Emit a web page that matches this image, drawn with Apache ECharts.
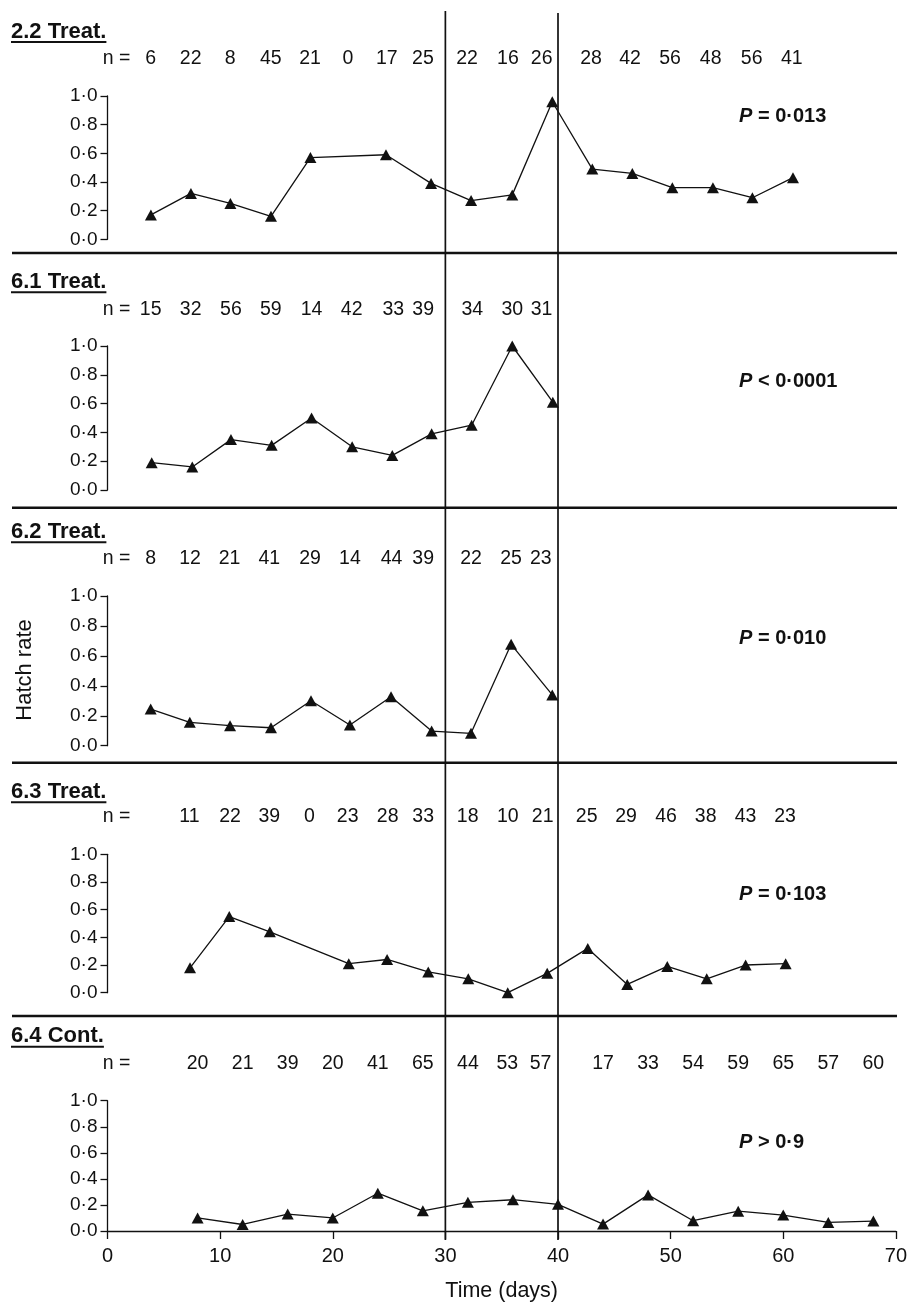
<!DOCTYPE html>
<html>
<head>
<meta charset="utf-8">
<script src="https://cdn.jsdelivr.net/npm/echarts@6/dist/echarts.min.js"></script>
<style>
html,body{margin:0;padding:0;background:#fff;}
#c{width:910px;height:1303px;}
</style>
</head>
<body>
<div id="c"></div>
<script>
// ---------------- DATA ----------------
const panelTitles = ['2.2 Treat.', '6.1 Treat.', '6.2 Treat.', '6.3 Treat.', '6.4 Cont.'];
const pValueTexts = ['= 0·013', '< 0·0001', '= 0·010', '= 0·103', '> 0·9'];
const boundaryDays = [30, 40];
const xTickValues = [0, 10, 20, 30, 40, 50, 60, 70];
const yTickValues = [0, 0.2, 0.4, 0.6, 0.8, 1.0];

// 2.2 Treat.
const t22Days = [3.85, 7.4, 10.9, 14.5, 18.0, 24.7, 28.7, 32.25, 35.9, 39.45, 43.0, 46.55, 50.1, 53.7, 57.2, 60.8];
const t22Rate = [0.17, 0.32, 0.25, 0.16, 0.57, 0.59, 0.39, 0.27, 0.31, 0.96, 0.49, 0.46, 0.36, 0.36, 0.29, 0.43];
const t22NDays = [3.83, 7.38, 10.87, 14.48, 17.96, 21.33, 24.77, 27.98, 31.89, 35.52, 38.51, 42.89, 46.35, 49.9, 53.5, 57.14, 60.69];
const t22N = [6, 22, 8, 45, 21, 0, 17, 25, 22, 16, 26, 28, 42, 56, 48, 56, 41];

// 6.1 Treat.
const t61Days = [3.92, 7.52, 10.95, 14.56, 18.1, 21.7, 25.26, 28.75, 32.3, 35.9, 39.5];
const t61Rate = [0.19, 0.16, 0.35, 0.31, 0.50, 0.30, 0.24, 0.39, 0.45, 1.00, 0.61];
const t61NDays = [3.83, 7.38, 10.95, 14.48, 18.1, 21.66, 25.35, 28.0, 32.36, 35.9, 38.5];
const t61N = [15, 32, 56, 59, 14, 42, 33, 39, 34, 30, 31];

// 6.2 Treat.
const t62Days = [3.83, 7.3, 10.87, 14.5, 18.05, 21.5, 25.15, 28.75, 32.24, 35.8, 39.45];
const t62Rate = [0.245, 0.156, 0.134, 0.12, 0.30, 0.138, 0.327, 0.098, 0.083, 0.677, 0.339];
const t62NDays = [3.83, 7.32, 10.82, 14.35, 17.96, 21.5, 25.2, 28.0, 32.24, 35.8, 38.43];
const t62N = [8, 12, 21, 41, 29, 14, 44, 39, 22, 25, 23];

// 6.3 Treat.
const t63Days = [7.32, 10.8, 14.4, 21.4, 24.8, 28.45, 32.0, 35.5, 39.0, 42.6, 46.1, 49.65, 53.15, 56.6, 60.15];
const t63Rate = [0.18, 0.55, 0.44, 0.21, 0.24, 0.15, 0.10, 0.0, 0.14, 0.32, 0.06, 0.19, 0.10, 0.20, 0.21];
const t63NDays = [7.26, 10.87, 14.35, 17.9, 21.3, 24.85, 28.0, 31.95, 35.5, 38.6, 42.5, 46.0, 49.54, 53.06, 56.6, 60.1];
const t63N = [11, 22, 39, 0, 23, 28, 33, 18, 10, 21, 25, 29, 46, 38, 43, 23];

// 6.4 Cont.
const c64Days = [8, 12, 16, 20, 24, 28, 32, 36, 40, 44, 48, 52, 56, 60, 64, 68];
const c64Rate = [0.10, 0.05, 0.13, 0.10, 0.29, 0.155, 0.22, 0.24, 0.205, 0.053, 0.277, 0.079, 0.152, 0.122, 0.066, 0.076];
const c64NDays = [8, 12, 16, 20, 24, 28, 32, 35.5, 38.45, 44, 48, 52, 56, 60, 64, 68];
const c64N = [20, 21, 39, 20, 41, 65, 44, 53, 57, 17, 33, 54, 59, 65, 57, 60];

// ---------------- CHART ----------------
const FONT = '"Liberation Sans", Arial, Helvetica, sans-serif';
const INK = '#111';
const panels = [
  {days: t22Days, rate: t22Rate, nDays: t22NDays, n: t22N},
  {days: t61Days, rate: t61Rate, nDays: t61NDays, n: t61N},
  {days: t62Days, rate: t62Rate, nDays: t62NDays, n: t62N},
  {days: t63Days, rate: t63Rate, nDays: t63NDays, n: t63N},
  {days: c64Days, rate: c64Rate, nDays: c64NDays, n: c64N}
];
const layout = [
  {top: 96,    height: 143.3, titleY: 31.5,  nY: 59,    pY: 116.7, sepY: 253},
  {top: 346,   height: 144,   titleY: 281.8, nY: 309.3, pY: 381.7, sepY: 507.7},
  {top: 596,   height: 149.7, titleY: 531.8, nY: 559,   pY: 638.3, sepY: 762.7},
  {top: 854.3, height: 138.4, titleY: 791.8, nY: 816.7, pY: 894.3, sepY: 1016},
  {top: 1100.7,height: 131.3, titleY: 1036.2,nY: 1064,  pY: 1142.7, sepY: null}
];
const GRID_LEFT = 107.5, GRID_RIGHT = 910 - 896.7;

const chart = echarts.init(document.getElementById('c'), null, {renderer: 'canvas'});

const grids = [], xAxes = [], yAxes = [], series = [];
panels.forEach((p, i) => {
  const L = layout[i];
  const last = i === panels.length - 1;
  grids.push({left: GRID_LEFT, right: GRID_RIGHT, top: L.top, height: L.height, containLabel: false});
  xAxes.push({
    type: 'value', gridIndex: i, min: 0, max: 70, interval: 10, show: last,
    axisLine: {show: true, onZero: false, lineStyle: {color: INK, width: 1.3}},
    axisTick: {show: true, length: 8, lineStyle: {color: INK, width: 1.3}},
    axisLabel: {show: true, color: INK, fontSize: 20, fontFamily: FONT, margin: 15},
    splitLine: {show: false},
    name: last ? 'Time (days)' : '',
    nameLocation: 'middle', nameGap: 49,
    nameTextStyle: {color: INK, fontSize: 21.5, fontFamily: FONT}
  });
  yAxes.push({
    type: 'value', gridIndex: i, min: 0, max: 1, interval: 0.2,
    axisLine: {show: true, onZero: false, lineStyle: {color: INK, width: 1.3}},
    axisTick: {show: true, length: 7, lineStyle: {color: INK, width: 1.3}},
    axisLabel: {color: INK, fontSize: 19, fontFamily: FONT, margin: 10,
      formatter: v => v.toFixed(1).replace('.', '·')},
    splitLine: {show: false}
  });
  series.push({
    type: 'line', xAxisIndex: i, yAxisIndex: i,
    data: p.days.map((d, k) => [d, p.rate[k]]),
    symbol: 'triangle', symbolSize: [12, 11],
    itemStyle: {color: INK},
    lineStyle: {color: INK, width: 1.3},
    clip: false, animation: false, silent: true
  });
});

chart.setOption({
  backgroundColor: '#fff',
  animation: false,
  grid: grids, xAxis: xAxes, yAxis: yAxes, series: series
});

// ---------- annotations built with the chart's own x scale ----------
const ctx = document.createElement('canvas').getContext('2d');
function textWidth(t, font) { ctx.font = font; return ctx.measureText(t).width; }

const g = [];
panels.forEach((p, i) => {
  const L = layout[i];
  // title + underline
  const tFont = 'bold 22px ' + FONT;
  g.push({type: 'text', x: 11, y: L.titleY, style: {text: panelTitles[i], font: tFont, fill: INK, textAlign: 'left', textVerticalAlign: 'middle'}});
  g.push({type: 'line', shape: {x1: 11, y1: L.titleY + 10.5, x2: 11 + textWidth(panelTitles[i], tFont), y2: L.titleY + 10.5}, style: {stroke: INK, lineWidth: 2}});
  // n =
  const nFont = '19.5px ' + FONT;
  g.push({type: 'text', x: 102.7, y: L.nY, style: {text: 'n =', font: nFont, fill: INK, textAlign: 'left', textVerticalAlign: 'middle'}});
  p.nDays.forEach((d, k) => {
    const x = chart.convertToPixel({xAxisIndex: i}, d);
    g.push({type: 'text', x: x, y: L.nY, style: {text: String(p.n[k]), font: nFont, fill: INK, textAlign: 'center', textVerticalAlign: 'middle'}});
  });
  // P value
  const pFontI = 'italic bold 20px ' + FONT;
  const pFontB = 'bold 20px ' + FONT;
  g.push({type: 'text', x: 739, y: L.pY, style: {text: 'P', font: pFontI, fill: INK, textAlign: 'left', textVerticalAlign: 'middle'}});
  g.push({type: 'text', x: 739 + textWidth('P ', pFontI), y: L.pY, style: {text: pValueTexts[i], font: pFontB, fill: INK, textAlign: 'left', textVerticalAlign: 'middle'}});
  // separator
  if (L.sepY !== null) {
    g.push({type: 'line', shape: {x1: 12, y1: L.sepY, x2: 897, y2: L.sepY}, style: {stroke: INK, lineWidth: 2.6}});
  }
});
// treatment boundary lines
const lastGrid = layout[layout.length - 1];
const axisY = lastGrid.top + lastGrid.height;
const tops = [11, 13];
boundaryDays.forEach((d, k) => {
  const x = chart.convertToPixel({xAxisIndex: 4}, d);
  g.push({type: 'line', shape: {x1: x, y1: tops[k], x2: x, y2: axisY + 8}, style: {stroke: INK, lineWidth: 1.7}});
});
// y axis title
g.push({type: 'text', x: 25, y: 670, rotation: Math.PI / 2, style: {text: 'Hatch rate', font: '22px ' + FONT, fill: INK, textAlign: 'center', textVerticalAlign: 'middle'}});

chart.setOption({graphic: {elements: g}});
</script>
</body>
</html>
